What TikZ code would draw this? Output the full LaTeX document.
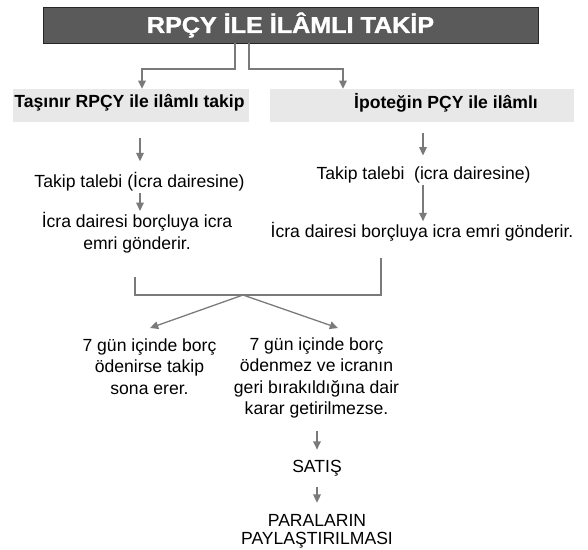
\documentclass[tikz,border=0pt]{standalone}
\usepackage{fontspec}
\setmainfont{Liberation Sans}
\newfontfamily\titlefont[FakeBold=1.2]{Liberation Sans Bold}
\usetikzlibrary{arrows.meta}
\usetikzlibrary{positioning}

\definecolor{arrowgray}{HTML}{7A7A7A}
\definecolor{titlegray}{HTML}{5A5A5A}
\definecolor{boxgray}{HTML}{E8E8E8}

\begin{document}
\begin{tikzpicture}[x=0.03cm,y=-0.03cm]
\tikzstyle{title node}=[rectangle,draw=black!85,fill=titlegray,text=white,line width=0.8pt,
  minimum width=14.85cm,minimum height=1.08cm,inner sep=0,
  font=\titlefont\fontsize{19.5}{22}\selectfont]
\tikzstyle{head node}=[rectangle,fill=boxgray,minimum height=0.99cm,inner sep=0]
\tikzstyle{head text}=[inner sep=0,font=\bfseries\fontsize{15}{18}\selectfont]
\tikzstyle{text node}=[align=center,inner sep=1,font=\fontsize{15}{18.4}\selectfont]
\tikzset{
  conn/.style = {draw=arrowgray,line width=1.1pt},
  arr/.style  = {conn,-{Triangle[width=6.5pt,length=7pt]}}
}
\useasboundingbox (0,0) rectangle (588,549);

    \node[title node] (title) at (290.5,25) {\scalebox{1.1}[1]{RPÇY İLE İLÂMLI TAKİP}};
    \node[head node,minimum width=7.08cm]  (hleft)  at (131,105.5) {};
    \node[head node,minimum width=9.12cm]  (hright) at (422,105.5) {};
    \node[head text] (hltext) at (129.5,103) {Taşınır RPÇY ile ilâmlı takip};
    \node[head text] (hrtext) at (446,103)   {İpoteğin PÇY ile ilâmlı};
    %%%%%%%%%%%%%%%%%%%%%%%%%%%%%%%%%%%%%%%%%%
    \node[text node] (ltalep)  at (139.5,182) {Takip talebi (İcra dairesine)};
    \node[text node] (rtalep)  at (423.5,175) {Takip talebi\ \ (icra dairesine)};
    \node[text node] (lemir)   at (137,232.5) {İcra dairesi borçluya icra\\emri gönderir.};
    \node[text node] (remir)   at (422,232)   {İcra dairesi borçluya icra emri gönderir.};
    \node[text node] (odenir)  at (149.5,366.5) {7 gün içinde borç\\ödenirse takip\\sona erer.};
    \node[text node] (odenmez) at (316.5,378)   {7 gün içinde borç\\ödenmez ve icranın\\geri bırakıldığına dair\\karar getirilmezse.};
    \node[text node] (satis)   at (317,468)     {SATIŞ};
    \node[text node,font=\fontsize{15}{15.4}\selectfont] (para) at (317,531) {PARALARIN\\PAYLAŞTIRILMASI};
    %%%%%%%%%%%%%%%%%%%%%%%%%%%%%%%%%%%%%%%%%%
    \coordinate (tl) at (235,69);
    \coordinate (tr) at (249,69);
    \coordinate (bl) at (135,277);
    \coordinate (br) at (381,258);
    \coordinate (bm) at (243,295);
    \coordinate (dl) at (150,328);
    \coordinate (dr) at (338,328);

    \draw[arr] (title.south -| tl) -- (tl) -| (hleft.north -| 142,0);
    \draw[arr] (title.south -| tr) -- (tr) -| (hright.north -| 343,0);
    \draw[conn] (bl) |- (bm) -| (br);

    \path
         (hleft.south -| 140,0) edge[arr,shorten <=0.48cm,shorten >=0.3cm] (ltalep.north -| 140,0)
         (hright.south -| 423,0) edge[arr,shorten <=0.33cm,shorten >=0.3cm] (rtalep.north -| 423,0)
         (ltalep.south -| 140,0) edge[arr] (lemir.north -| 140,0)
         (rtalep.south -| 423,0) edge[arr] (remir.north -| 423,0)
         (bm) edge[arr] (dl)
         (bm) edge[arr] (dr)
         (odenmez.south -| 317,0) edge[arr,shorten <=0.33cm,shorten >=0.27cm] (satis.north -| 317,0)
         (satis.south -| 317,0) edge[arr,shorten <=0.3cm,shorten >=0.3cm] (para.north -| 317,0)
;
\end{tikzpicture}
\end{document}
